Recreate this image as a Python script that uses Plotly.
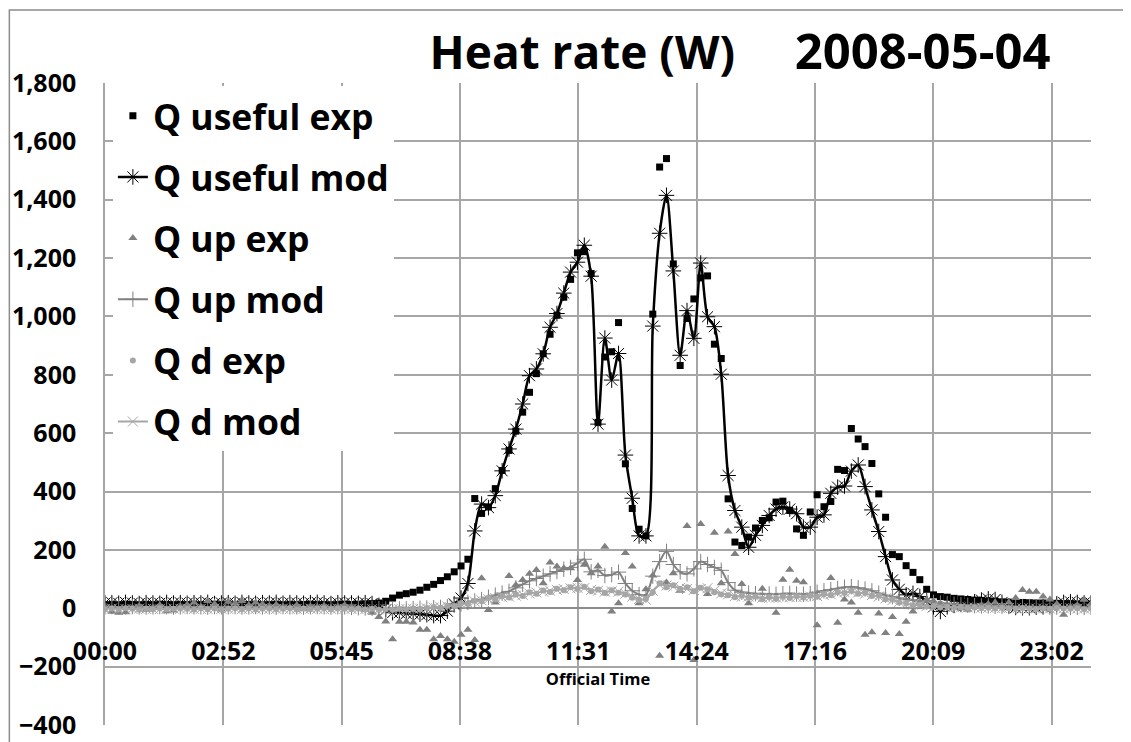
import plotly.graph_objects as go

# time of day in minutes (10 min samples)
minutes = list(range(0, 1441, 10))

tick_minutes = [0, 172.8, 345.6, 518.4, 691.2, 864, 1036.8, 1209.6, 1382.4]
tick_labels = ["00:00", "02:52", "05:45", "08:38", "11:31", "14:24", "17:16", "20:09", "23:02"]

qu_exp = [
    12, 13, 12, 14, 13, 12, 13, 12, 14, 13, 12, 13,
    12, 13, 12, 13, 14, 12, 13, 12, 13, 12, 13, 12,
    12, 13, 12, 13, 12, 13, 14, 12, 13, 12, 13, 14,
    13, 14, 15, 16, 18, 24, 35, 45, 50, 55, 62, 72,
    82, 95, 108, 125, 145, 168, 376, 325, 347, 410, 472, 541,
    607, 672, 740, 804, 872, 939, 1004, 1066, 1127, 1218, 1222, 1147,
    637, 861, 879, 979, 495, 342, 271, 248, 1008, 1512, 1541, 1180,
    832, 993, 1060, 1132, 1139, 905, 856, 375, 227, 215, 244, 275,
    301, 310, 364, 367, 335, 272, 250, 330, 389, 348, 366, 476,
    472, 616, 580, 554, 496, 392, 312, 184, 177, 146, 123, 98,
    65, 46, 40, 38, 34, 32, 30, 28, 27, 25, 24, 22,
    21, 20, 20, 19, 18, 18, 17, 17, 16, 16, 15, 15,
    15]

qu_mod = [
    18, 19, 17, 20, 18, 16, 19, 18, 17, 20, 18, 19,
    17, 19, 18, 20, 16, 18, 19, 17, 20, 18, 17, 19,
    18, 20, 17, 19, 18, 17, 19, 20, 18, 16, 19, 18,
    18, 17, 19, 16, 10, -5, -15, -15, -18, -18, -20, -22,
    -25, -25, -10, 15, 35, 85, 265, 357, 345, 386, 471, 546,
    614, 700, 797, 820, 872, 963, 1010, 1080, 1152, 1186, 1244, 1138,
    631, 926, 782, 873, 525, 377, 248, 248, 967, 1285, 1415, 1156,
    867, 1020, 925, 1183, 999, 965, 802, 455, 335, 278, 209, 250,
    284, 318, 340, 347, 340, 324, 278, 278, 312, 320, 394, 415,
    419, 470, 491, 417, 337, 263, 177, 97, 65, 46, 51, 40,
    25, 5, -11, 5, 10, 15, 18, 22, 28, 32, 30, 20,
    8, 3, 2, 2, 4, 6, 10, 15, 20, 22, 20, 18,
    18]

qup_exp = [
    5, -12, -15, -14, 2, 8, -5, 3, 10, -10, -8, 6,
    12, 20, 5, 25, 15, -3, 22, 18, 25, 10, 20, 15,
    8, 12, 5, 3, 10, -2, 6, 4, 8, 2, 5, 10,
    5, 0, -5, -15, -30, -45, -106, -46, -46, -49, -74, -74,
    -106, -95, -106, -115, -91, -74, -109, 103, -6, 20, 45, 111,
    80, 97, 118, 131, 86, 157, 143, 137, 137, 97, 149, 120,
    143, 211, -11, 17, 189, 143, 17, 65, 112, -163, 88, 120,
    60, 282, -177, 289, 49, 259, 86, 263, 186, 83, 17, 40,
    67, 40, -15, 98, 132, 94, 89, 45, -58, 50, 104, -50,
    30, 20, -15, -91, -82, -18, -85, -30, -88, -46, -11, 20,
    30, 25, 15, 10, 5, 0, -5, 5, 10, 15, 20, 10,
    20, 35, 63, 57, 57, 40, 30, 15, -22, 5, 10, 29,
    15]

qup_mod = [
    5, 6, 4, 5, 6, 5, 4, 5, 6, 5, 4, 5,
    6, 5, 5, 4, 6, 5, 5, 6, 4, 5, 6, 5,
    5, 4, 6, 5, 5, 4, 5, 6, 5, 4, 5, 5,
    3, 2, 1, 0, -2, -3, -3, -2, -2, -1, 0, 1,
    2, 3, 5, 10, 15, 20, 25, 30, 38, 45, 52, 58,
    70, 82, 94, 102, 110, 118, 126, 134, 140, 155, 168, 125,
    130, 112, 115, 124, 85, 60, 47, 45, 110, 160, 195, 150,
    125, 118, 135, 160, 150, 140, 130, 88, 62, 55, 52, 50,
    50, 49, 48, 50, 51, 49, 48, 50, 55, 60, 64, 68,
    72, 74, 70, 66, 60, 52, 45, 40, 35, 30, 28, 25,
    22, 20, 18, 16, 14, 12, 10, 9, 8, 8, 7, 7,
    6, 6, 5, 5, 5, 4, 4, 4, 4, 3, 3, 3,
    3]

qd_exp = [
    -3, -1, -4, 0, -2, -5, -1, -3, 0, -4, -2, -1,
    -2, -4, 0, -3, -1, -5, -2, 0, -3, -1, -4, -2,
    -1, -3, -2, 0, -4, -1, -3, -2, 0, -3, -1, -2,
    -3, -1, -4, -2, -5, -3, -6, -2, -4, -1, -3, 1,
    4, 2, 9, 8, 17, 15, 26, 24, 35, 31, 42, 37,
    47, 42, 55, 50, 61, 56, 67, 62, 72, 66, 74, 58,
    64, 52, 62, 53, 47, 36, 28, 33, 55, 86, 72, 79,
    66, 72, 58, 70, 64, 55, 47, 45, 38, 44, 36, 40,
    31, 39, 33, 40, 35, 42, 37, 44, 40, 49, 45, 56,
    52, 60, 50, 54, 42, 44, 31, 30, 20, 18, 10, 12,
    6, 8, 3, 5, 2, 4, 1, 3, 0, 2, -1, 1,
    0, -2, 1, -1, -3, 0, -2, 1, -1, -2, 0, -3,
    -1]

qd_mod = [
    -2, -1, -2, -3, -2, -1, -2, -2, -3, -2, -1, -2,
    -1, -2, -2, -3, -1, -2, -2, -1, -3, -2, -2, -1,
    -2, -2, -1, -3, -2, -2, -1, -2, -3, -2, -1, -2,
    -2, -2, -3, -3, -4, -4, -3, -3, -2, -2, -1, 0,
    2, 4, 6, 10, 14, 18, 23, 27, 31, 35, 38, 40,
    43, 46, 50, 54, 57, 60, 63, 66, 68, 70, 69, 63,
    60, 57, 58, 57, 50, 40, 32, 29, 60, 80, 78, 74,
    70, 66, 63, 66, 69, 60, 51, 48, 42, 40, 40, 38,
    36, 36, 37, 37, 38, 38, 39, 40, 42, 45, 48, 52,
    55, 56, 54, 50, 45, 40, 34, 28, 22, 16, 12, 10,
    8, 6, 5, 4, 4, 3, 3, 2, 2, 2, 1, 1,
    1, 0, 0, 0, -1, -1, -1, 0, 0, 0, -1, -1,
    -1]

BLACK = "#000000"
MID_GREY = "#808080"
LIGHT_GREY = "#A6A6A6"
GRID = "#A6A6A6"

fig = go.Figure()

fig.add_trace(go.Scatter(
    x=minutes, y=qu_exp, name="Q useful exp", mode="markers", legendgroup="a",
    marker=dict(symbol="square", size=7, color=BLACK)))

fig.add_trace(go.Scatter(
    x=minutes, y=qu_mod, name="Q useful mod", mode="lines+markers", legendgroup="b",
    line=dict(color=BLACK, width=2.5, shape="spline", smoothing=0.8),
    marker=dict(symbol="asterisk-open", size=13, color=BLACK, line=dict(width=1, color=BLACK))))

fig.add_trace(go.Scatter(
    x=minutes, y=qup_exp, name="Q up exp", mode="markers", legendgroup="c",
    marker=dict(symbol="triangle-up", size=8, color=MID_GREY)))

fig.add_trace(go.Scatter(
    x=minutes, y=qup_mod, name="Q up mod", mode="lines+markers", legendgroup="d",
    line=dict(color=MID_GREY, width=2, shape="spline", smoothing=0.8),
    marker=dict(symbol="cross-thin-open", size=11, color=MID_GREY, line=dict(width=1, color=MID_GREY))))

fig.add_trace(go.Scatter(
    x=minutes, y=qd_exp, name="Q d exp", mode="markers", legendgroup="e",
    marker=dict(symbol="circle", size=6, color=LIGHT_GREY)))

fig.add_trace(go.Scatter(
    x=minutes, y=qd_mod, name="Q d mod", mode="lines+markers", legendgroup="f",
    line=dict(color=LIGHT_GREY, width=2, shape="spline", smoothing=0.8),
    marker=dict(symbol="x-thin-open", size=10, color=LIGHT_GREY, line=dict(width=1, color=LIGHT_GREY))))

# the page body adds an 8px offset, so the margins are shifted to compensate
fig.update_layout(
    width=1131, height=742,
    margin=dict(l=97, r=48, t=75, b=25, autoexpand=False),
    plot_bgcolor="white", paper_bgcolor="white",
    font=dict(family="Open Sans", color="black"),
    title=dict(
        text="Heat rate (W)\u00a0\u00a0\u00a0\u00a0 <span style='font-size:49px'>2008-05-04</span>",
        xref="container", yref="container",
        x=732 / 1131, y=1 - 45 / 742, xanchor="center", yanchor="middle",
        font=dict(size=46, weight="bold")),
    legend=dict(
        x=0.008, y=0.995, xanchor="left", yanchor="top",
        bgcolor="white", traceorder="grouped", tracegroupgap=12,
        font=dict(size=35.5, weight="bold")),
    showlegend=True,
)

fig.update_xaxes(
    range=[0, 1440],
    tickvals=tick_minutes, ticktext=tick_labels,
    anchor="free", position=400 / 2200, automargin=False,
    showgrid=True, gridcolor=GRID, gridwidth=1.5,
    zeroline=False, showline=False, ticks="",
    tickfont=dict(size=25, weight="bold"),
    ticklabelstandoff=26,
    title=dict(text="Official Time", font=dict(size=16.5, weight="bold"), standoff=0),
)

fig.update_yaxes(
    range=[-400, 1800], dtick=200, tickformat=",d", automargin=False,
    showgrid=True, gridcolor=GRID, gridwidth=1.5,
    zeroline=True, zerolinecolor="#8C8C8C", zerolinewidth=2,
    showline=True, linecolor=GRID, linewidth=1.5,
    ticks="", tickfont=dict(size=25, weight="bold"),
    ticklabelstandoff=22,
)

# outer chart frame (as in the spreadsheet export)
fig.add_shape(type="rect", xref="paper", yref="paper",
              x0=-0.0970, y0=-0.05, x1=1.06, y1=1.1137,
              line=dict(color="#8C8C8C", width=1.5), layer="above")

fig.write_html("out.html")
